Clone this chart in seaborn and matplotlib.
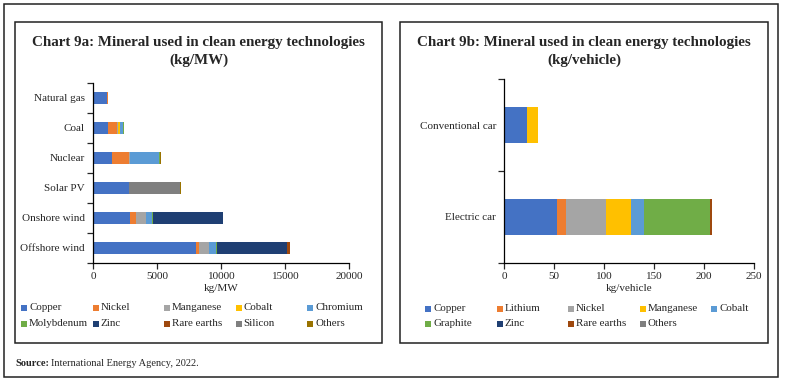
import matplotlib
matplotlib.use("Agg")
import matplotlib.pyplot as plt
from matplotlib.patches import Rectangle
import numpy as np
import pandas as pd
import seaborn as sns

# chart 9a data (kg/MW)
techs = ["Natural gas", "Coal", "Nuclear", "Solar PV", "Onshore wind", "Offshore wind"]
minerals_a = ["Copper", "Nickel", "Manganese", "Cobalt", "Chromium",
              "Molybdenum", "Zinc", "Rare earths", "Silicon", "Others"]
copper_a = [1100, 1150, 1473, 2822, 2900, 8000]
nickel_a = [16, 721, 1297, 0, 404, 240]
manganese_a = [0, 20, 100, 0, 780, 790]
cobalt_a = [0, 160, 0, 0, 0, 0]
chromium_a = [48, 308, 2250, 0, 470, 525]
molybdenum_a = [0, 66, 70, 0, 99, 109]
zinc_a = [0, 0, 0, 0, 5500, 5500]
rare_earths_a = [0, 0, 0, 0, 14, 239]
silicon_a = [0, 0, 0, 3990, 0, 0]
others_a = [0, 0, 60, 30, 0, 0]

# chart 9b data (kg/vehicle)
cars = ["Conventional car", "Electric car"]
minerals_b = ["Copper", "Lithium", "Nickel", "Manganese", "Cobalt",
              "Graphite", "Zinc", "Rare earths", "Others"]
copper_b = [22.3, 53.2]
lithium_b = [0, 8.9]
nickel_b = [0, 39.9]
manganese_b = [11.2, 24.5]
cobalt_b = [0, 13.3]
graphite_b = [0, 66.3]
zinc_b = [0, 0.1]
rare_earths_b = [0, 1.5]
others_b = [0, 0.3]

colors_a = ["#4472C4", "#ED7D31", "#A5A5A5", "#FFC000", "#5B9BD5",
            "#70AD47", "#1F3F73", "#9E480E", "#7F7F7F", "#997300"]
colors_b = ["#4472C4", "#ED7D31", "#A5A5A5", "#FFC000", "#5B9BD5",
            "#70AD47", "#1F3F73", "#9E480E", "#7F7F7F"]

df_a = pd.DataFrame(np.array([copper_a, nickel_a, manganese_a, cobalt_a, chromium_a,
                              molybdenum_a, zinc_a, rare_earths_a, silicon_a, others_a]).T,
                    index=techs, columns=minerals_a)
df_b = pd.DataFrame(np.array([copper_b, lithium_b, nickel_b, manganese_b, cobalt_b,
                              graphite_b, zinc_b, rare_earths_b, others_b]).T,
                    index=cars, columns=minerals_b)

sns.set_style("ticks")
plt.rcParams["font.family"] = ["Liberation Serif", "DejaVu Serif"]

W, H = 785, 382
fig = plt.figure(figsize=(W / 100, H / 100), dpi=100)


def px_axes(x0, x1, y0, y1):
    return fig.add_axes([x0 / W, 1 - y1 / H, (x1 - x0) / W, (y1 - y0) / H])


def stacked(ax, df, colors):
    cum = df.cumsum(axis=1)
    # draw longest first so shorter ones sit on top
    for col, c in reversed(list(zip(df.columns, colors))):
        d = pd.DataFrame({"cat": df.index, "val": cum[col].values})
        sns.barplot(data=d, x="val", y="cat", order=list(df.index), color=c,
                    orient="h", width=0.4, saturation=1, ax=ax, linewidth=0)
    ax.set_ylabel("")
    n = len(df.index)
    ax.set_yticks(range(n))
    ax.set_yticks(np.arange(-0.5, n, 1), minor=True)
    ax.tick_params(axis="y", which="major", length=0, pad=6, labelsize=8)
    ax.tick_params(axis="y", which="minor", length=4, width=0.9)
    ax.tick_params(axis="x", length=4, width=0.9, labelsize=8, pad=3)
    ax.set_ylim(n - 0.5, -0.5)
    sns.despine(ax=ax)
    for s in ["left", "bottom"]:
        ax.spines[s].set_color("black")
        ax.spines[s].set_linewidth(0.9)


ax1 = px_axes(93.3, 349.3, 82.7, 262.7)
stacked(ax1, df_a, colors_a)
ax1.set_xlim(0, 20000)
ax1.set_xticks(range(0, 20001, 5000))
ax1.set_xlabel("kg/MW", fontsize=8, labelpad=2)

ax2 = px_axes(504.3, 754, 79.3, 262.7)
stacked(ax2, df_b, colors_b)
ax2.set_xlim(0, 250)
ax2.set_xticks(range(0, 251, 50))
ax2.set_xlabel("kg/vehicle", fontsize=8, labelpad=2)


def legend(names, colors, x0, rows_y, dx=71.5):
    for i, (nm, c) in enumerate(zip(names, colors)):
        x = x0 + (i % 5) * dx
        y = rows_y[i // 5]
        fig.patches.append(Rectangle(((x - 3) / W, 1 - (y + 3) / H), 6 / W, 6 / H,
                                     transform=fig.transFigure, facecolor=c,
                                     edgecolor="none"))
        fig.text((x + 5) / W, 1 - y / H, nm, fontsize=7.9, va="center", ha="left")


legend(minerals_a, colors_a, 24, [307.5, 323.5])
legend(minerals_b, colors_b, 428, [308.5, 323.5])

# frames
def frame(x0, y0, x1, y1, lw=1.1):
    fig.patches.append(Rectangle((x0 / W, 1 - y1 / H), (x1 - x0) / W, (y1 - y0) / H,
                                 transform=fig.transFigure, fill=False,
                                 edgecolor="#222222", linewidth=lw))


frame(4, 4, 778, 377)
frame(15, 22, 382, 343)
frame(400, 22, 768, 343)

fig.text(198.5 / W, 1 - 51.5 / H, "Chart 9a: Mineral used in clean energy technologies\n(kg/MW)",
         ha="center", va="center", fontsize=10.8, fontweight="bold", linespacing=1.45)
fig.text(584 / W, 1 - 51.5 / H, "Chart 9b: Mineral used in clean energy technologies\n(kg/vehicle)",
         ha="center", va="center", fontsize=10.8, fontweight="bold", linespacing=1.45)
fig.text(15 / W, 1 - 364 / H, "Source:", fontsize=7.5, fontweight="bold", va="center")
fig.text(51 / W, 1 - 364 / H, "International Energy Agency, 2022.", fontsize=7.5, va="center")

fig.savefig("out.png", dpi=100)
